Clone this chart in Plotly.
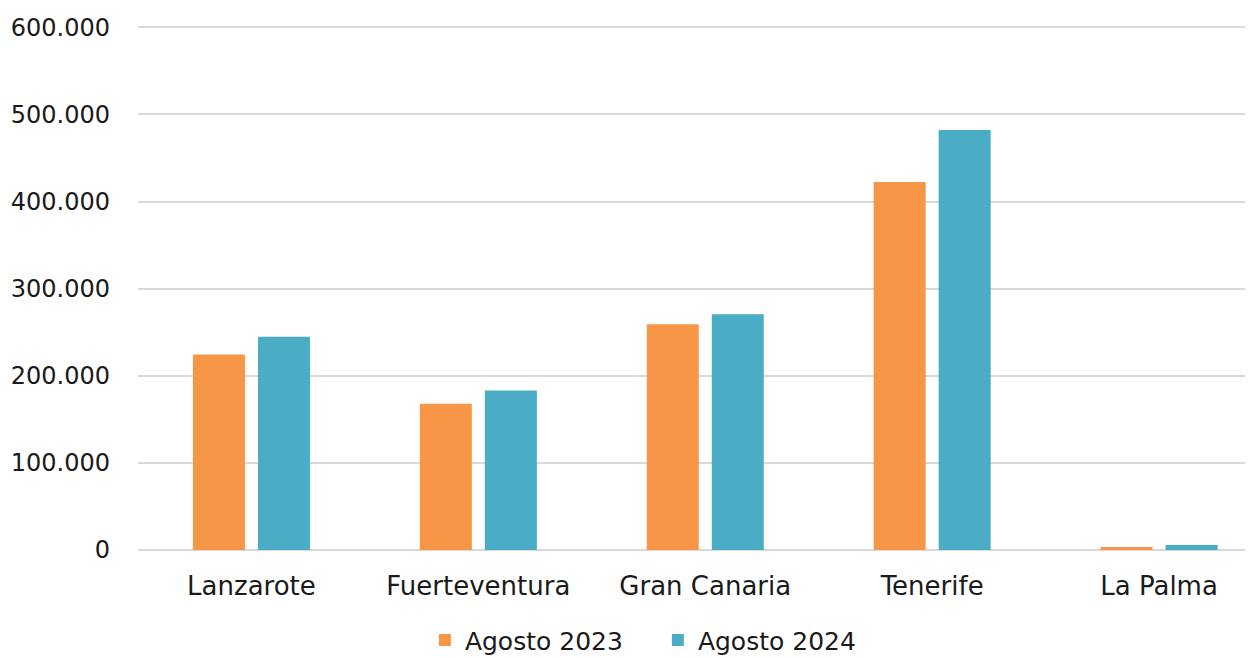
import plotly.graph_objects as go

islands = ["Lanzarote", "Fuerteventura", "Gran Canaria", "Tenerife", "La Palma"]
aug_2023 = [224500, 168000, 259000, 422500, 3500]
aug_2024 = [244800, 183000, 270500, 482000, 5800]

font_family = "DejaVu Sans, sans-serif"

fig = go.Figure()
fig.add_trace(go.Bar(x=islands, y=aug_2023, name="Agosto 2023", marker_color="#F79646",
                     marker_line_width=0))
fig.add_trace(go.Bar(x=islands, y=aug_2024, name="Agosto 2024", marker_color="#4BACC6",
                     marker_line_width=0))

# page body has an 8px margin, so the figure is sized/offset to compensate
fig.update_layout(
    width=1245, height=650,
    margin=dict(l=130, r=0, t=18, b=108, autoexpand=False),
    paper_bgcolor="white", plot_bgcolor="white",
    separators=",.",
    barmode="group", bargap=0.427, bargroupgap=0.2,
    font=dict(family=font_family, size=24, color="#1a1a1a"),
    legend=dict(orientation="h", xref="container", yref="paper",
                x=0.522, xanchor="center", y=-0.172, yanchor="middle",
                font=dict(size=25), itemsizing="constant", traceorder="normal",
                entrywidth=188, entrywidthmode="pixels"),
)
fig.update_xaxes(range=[-0.5, 4.414], showgrid=False, showline=False, ticks="",
                 automargin=False, ticklabelstandoff=18, tickfont=dict(size=26))
fig.update_yaxes(range=[0, 601500], tickvals=[0, 100000, 200000, 300000, 400000, 500000, 600000],
                 tickformat=",d",
                 showgrid=True, gridcolor="#D9D9D9", gridwidth=1.5,
                 zeroline=True, zerolinecolor="#D9D9D9", zerolinewidth=1.5,
                 automargin=False, ticks="", ticklabelstandoff=27, tickfont=dict(size=24))

fig.write_html("out.html")
